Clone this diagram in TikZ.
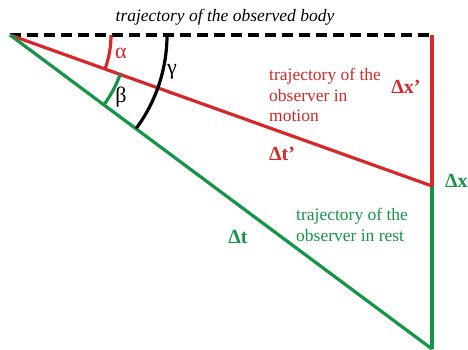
\documentclass[tikz,border=0pt]{standalone}
\usepackage{fontspec}
\setmainfont{Liberation Serif}
\definecolor{myred}{RGB}{214,40,40}
\definecolor{mygreen}{RGB}{20,150,70}
\begin{document}
\begin{tikzpicture}[x=1pt,y=-1pt,
  ln/.style={line width=3.2pt},
  lbl/.style={font=\fontsize{17.5}{20.5}\selectfont, align=left, inner sep=0pt},
  big/.style={font=\fontsize{20}{22}\selectfont\bfseries, inner sep=0pt},
  greek/.style={font=\fontsize{22}{24}\selectfont, inner sep=0pt}]
\useasboundingbox (0,0) rectangle (468,349);
\coordinate (O) at (10,35);
\coordinate (T) at (432,35);
\coordinate (M) at (432,186);
\coordinate (B) at (432,349);
\draw[ln, dash pattern=on 11pt off 6pt] (O) -- (T);
\draw[ln, myred] (T) -- (M);
\draw[ln, mygreen] (M) -- (B);
\draw[ln, myred] (O) -- (M);
\draw[ln, mygreen] (O) -- (B);
% arcs
\draw[ln, myred] ([shift={(0:101)}]O) arc[start angle=0, end angle=19.7, radius=101];
\draw[ln, mygreen] ([shift={(19.7:117)}]O) arc[start angle=19.7, end angle=36.5, radius=117];
\draw[ln, black] ([shift={(0:157)}]O) arc[start angle=0, end angle=36.5, radius=157];
\node[greek, myred] (al) at (121,53) {α};
\node[greek] (be) at (121,97) {β};
\node[greek] (ga) at (172,72) {γ};
\node[lbl, font=\fontsize{17.5}{20}\selectfont\itshape] (title) at (225,17) {trajectory of the observed body};
\node[lbl, myred, anchor=north west] (rt) at (269,68) {trajectory of the\\observer in\\motion};
\node[lbl, mygreen, anchor=north west] (gt) at (296,208) {trajectory of the\\observer in rest};
\node[big, myred] (dxp) at (406,87) {Δx’};
\node[big, myred] (dtp) at (282,154) {Δt’};
\node[big, mygreen, anchor=west] (dx) at (445,181) {Δx};
\node[big, mygreen] (dt) at (238,237) {Δt};
\end{tikzpicture}
\end{document}
